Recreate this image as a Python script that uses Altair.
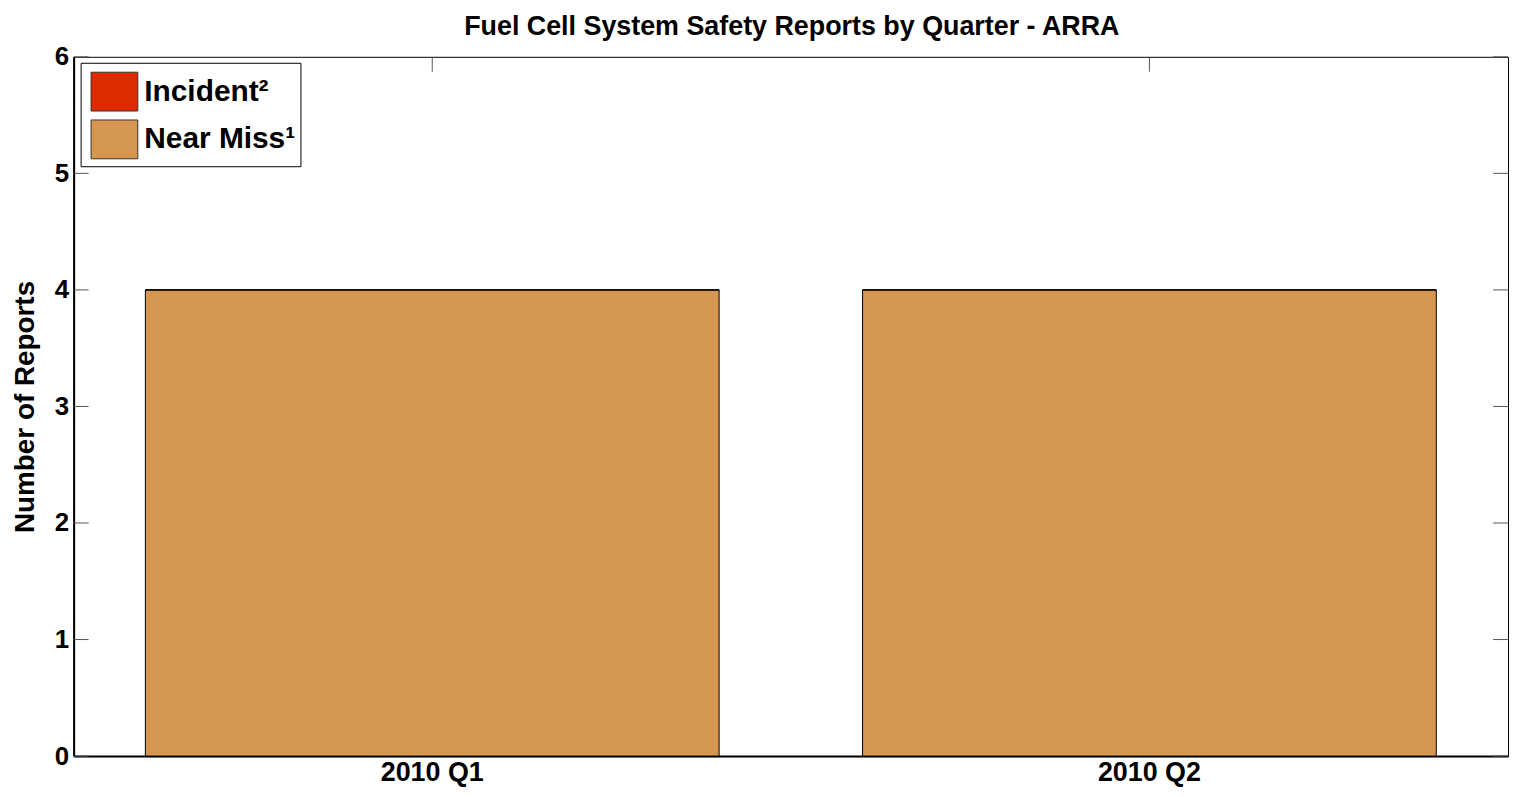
import altair as alt
import pandas as pd

# ---- data ----
quarters = ["2010 Q1", "2010 Q2"]
near_miss = [4, 4]
incident = [0, 0]
report_types = ["Incident²", "Near Miss¹"]
type_colors = ["#DD2A00", "#D5964F"]
y_ticks = [0, 1, 2, 3, 4, 5, 6]
title_text = ["Fuel Cell System Safety Reports by Quarter - ARRA"]

W, H = 1442, 703
FONT = "Liberation Sans"

rows = []
for q, nm, inc in zip(quarters, near_miss, incident):
    rows.append({"quarter": q, "type": report_types[1], "count": nm, "ord": 0})
    rows.append({"quarter": q, "type": report_types[0], "count": inc, "ord": 1})
bars_df = pd.DataFrame(rows)
yt_df = pd.DataFrame({"count": y_ticks})
xt_df = pd.DataFrame({"quarter": quarters})
title_df = pd.DataFrame({"t": title_text})

xscale = alt.Scale(domain=quarters, paddingInner=0.2, paddingOuter=0.1)
yscale = alt.Scale(domain=[0, 6], nice=False)

x_axis = alt.Axis(title=None, labelAngle=0, ticks=False, labelFontSize=27,
                  labelFont=FONT, labelFontWeight="bold", labelColor="#000",
                  labelBaseline="alphabetic", labelPadding=25,
                  domainColor="#000", domainWidth=2)
y_axis = alt.Axis(title="Number of Reports", values=y_ticks, format="d",
                  ticks=False, grid=False, labelFontSize=26, labelFont=FONT,
                  labelFontWeight="bold", labelColor="#000", labelPadding=5,
                  domainColor="#000", domainWidth=2,
                  titleFont=FONT, titleFontSize=28, titleFontWeight="bold",
                  titleColor="#000", titleAngle=-90, titleX=-40, titleY=H / 2,
                  titleAlign="center", titleBaseline="alphabetic")

rect_path = "M-1,-0.83H1V0.83H-1Z"

bars = alt.Chart(bars_df).mark_bar(stroke="#000000", strokeWidth=1).encode(
    x=alt.X("quarter:N", scale=xscale, sort=quarters, axis=x_axis),
    y=alt.Y("count:Q", scale=yscale, stack="zero", axis=y_axis),
    color=alt.Color("type:N",
                    scale=alt.Scale(domain=report_types, range=type_colors),
                    legend=alt.Legend(title=None, orient="none", legendX=7, legendY=6,
                                      symbolType=rect_path, symbolSize=2209,
                                      symbolStrokeColor="#333333", symbolStrokeWidth=1,
                                      symbolOpacity=1, symbolOffset=5,
                                      labelFont=FONT, labelFontSize=30,
                                      labelFontWeight="bold", labelColor="#000",
                                      labelOffset=6, rowPadding=2, padding=5,
                                      strokeColor="#000000", fillColor="#ffffff")),
    order=alt.Order("ord:Q"),
)

left_ticks = alt.Chart(yt_df).mark_rule(color="#555555", strokeWidth=1).encode(
    y=alt.Y("count:Q", scale=yscale, axis=y_axis), x=alt.value(0), x2=alt.value(15))
right_ticks = alt.Chart(yt_df).mark_rule(color="#555555", strokeWidth=1).encode(
    y=alt.Y("count:Q", scale=yscale, axis=y_axis), x=alt.value(W - 15), x2=alt.value(W))
top_ticks = alt.Chart(xt_df).mark_rule(color="#555555", strokeWidth=1).encode(
    x=alt.X("quarter:N", scale=xscale, sort=quarters, axis=x_axis),
    y=alt.value(0), y2=alt.value(15))

title = alt.Chart(title_df).mark_text(
    font=FONT, fontSize=27, fontWeight="bold", color="#000",
    align="center", baseline="alphabetic").encode(
    text="t:N", x=alt.value(W / 2 + 1), y=alt.value(-22))

chart = alt.layer(bars, left_ticks, right_ticks, top_ticks, title).properties(
    width=W, height=H,
    background="#ffffff",
    autosize=alt.AutoSizeParams(type="none"),
    padding={"left": 66, "top": 47, "right": 2, "bottom": 29},
).configure_view(stroke="#000000", strokeWidth=1)

chart.save("out.html", embed_options={"renderer": "svg", "actions": False})
